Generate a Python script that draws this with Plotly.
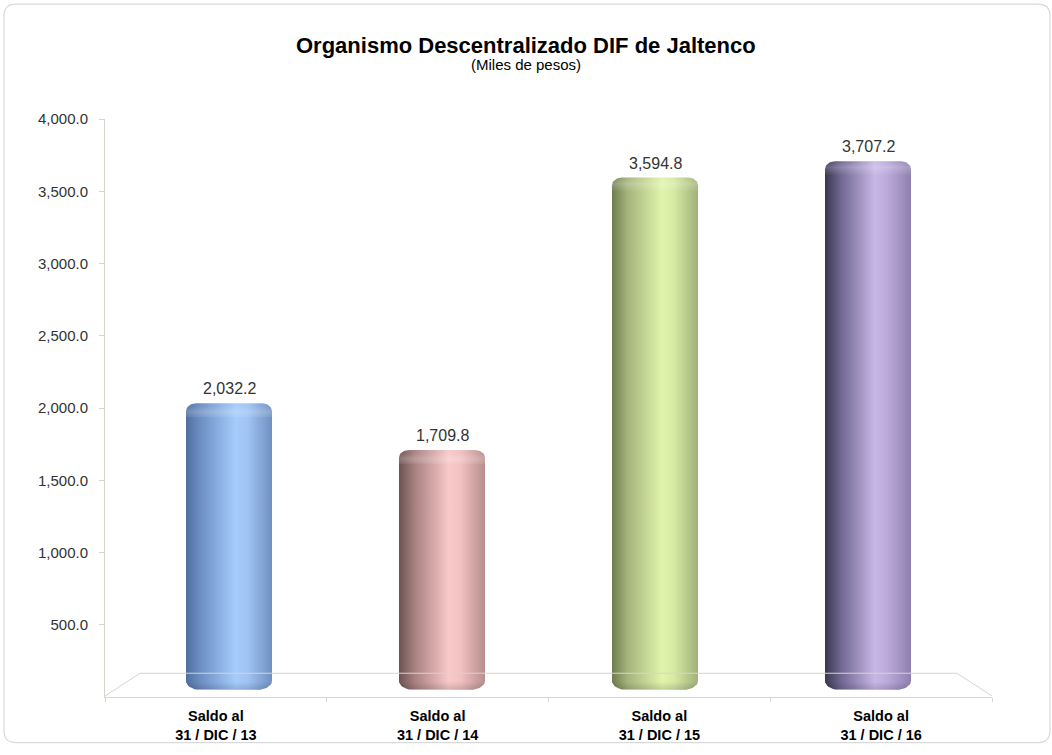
import numpy as np
import plotly.graph_objects as go

# ---------------- data ----------------
categories = ["Saldo al<br>31 / DIC / 13", "Saldo al<br>31 / DIC / 14",
              "Saldo al<br>31 / DIC / 15", "Saldo al<br>31 / DIC / 16"]
values = [2032.2, 1709.8, 3594.8, 3707.2]
y_ticks = [500, 1000, 1500, 2000, 2500, 3000, 3500, 4000]
title_text = "Organismo Descentralizado DIF de Jaltenco"
subtitle_text = "(Miles de pesos)"

# cylinder colour ramps (left edge -> highlight -> right edge)
bar_ramps = [
    ["#4f6f9f", "#6e91c5", "#a6ccfc", "#9fc3f3", "#7090c0"],
    ["#6e5252", "#a88080", "#f9c9c9", "#f1c0c0", "#b88e8e"],
    ["#6f7c4f", "#a4b47c", "#e0f4aa", "#d6eaa2", "#a0b078"],
    ["#3a364e", "#6f6690", "#c8b7e6", "#bcaadb", "#8f80b0"],
]
ramp_pos = [0.0, 0.18, 0.58, 0.72, 1.0]

# ---------------- geometry / style ----------------
W, H = 1052, 755
L, R, T, B = 105, 992, 119, 703          # plot area in pixels
PX_X = (R - L) / 4.0                      # px per category unit
PX_Y = (B - T) / 4000.0                   # px per value unit
DEPTH_K = 852.0 / 887.0                   # mid-depth compression of category spacing
BAR_HALF = 43.0 / PX_X
BASE = 50.0
AX_COL = "#d6d6cc"
FONT = "Arial, Liberation Sans, sans-serif"


def px2x(px):
    return (px - L) / (R - L)


def py2y(py):
    return (B - py) / (B - T)


def arc(cx, cy, rx, ry, a0, a1, n=12):
    t = np.linspace(np.radians(a0), np.radians(a1), n)
    return list(cx + rx * np.cos(t)), list(cy + ry * np.sin(t))


def outline(xc, y0, y1, rb=(0, 0), rt=(0, 0)):
    xl, xr = xc - BAR_HALF, xc + BAR_HALF
    rbx, rby = rb[0] / PX_X, rb[1] / PX_Y
    rtx, rty = rt[0] / PX_X, rt[1] / PX_Y
    xs, ys = [], []
    for (cx, cy, rx, ry, a0, a1) in [
        (xl + rtx, y1 - rty, rtx, rty, 180, 90),
        (xr - rtx, y1 - rty, rtx, rty, 90, 0),
        (xr - rbx, y0 + rby, rbx, rby, 0, -90),
        (xl + rbx, y0 + rby, rbx, rby, -90, -180),
    ]:
        ax, ay = arc(cx, cy, rx, ry, a0, a1)
        xs += ax
        ys += ay
    xs.append(xs[0])
    ys.append(ys[0])
    return xs, ys


fig = go.Figure()

for i, (cat, v) in enumerate(zip(categories, values)):
    xc = 1.5 + (i - 1.5) * DEPTH_K
    xs, ys = outline(xc, BASE, v, rb=(14, 9), rt=(10, 8))
    fig.add_trace(go.Scatter(
        x=xs, y=ys, mode="lines", fill="toself", line=dict(width=0),
        fillgradient=dict(type="horizontal",
                          colorscale=[[p, c] for p, c in zip(ramp_pos, bar_ramps[i])],
                          start=xc - BAR_HALF, stop=xc + BAR_HALF),
        hoverinfo="skip", showlegend=False))
    # top cap highlight
    cap_h = 14 / PX_Y
    xs, ys = outline(xc, v - cap_h, v, rt=(10, 8))
    fig.add_trace(go.Scatter(
        x=xs, y=ys, mode="lines", fill="toself", line=dict(width=0),
        fillgradient=dict(type="vertical",
                          colorscale=[[0, "rgba(255,255,255,0)"], [0.6, "rgba(255,255,255,0.2)"],
                                      [1, "rgba(255,255,255,0.05)"]],
                          start=v - cap_h, stop=v),
        hoverinfo="skip", showlegend=False))
    # bottom shadow
    bot_h = 14 / PX_Y
    xs, ys = outline(xc, BASE, BASE + bot_h, rb=(14, 9))
    fig.add_trace(go.Scatter(
        x=xs, y=ys, mode="lines", fill="toself", line=dict(width=0),
        fillgradient=dict(type="vertical",
                          colorscale=[[0, "rgba(20,20,40,0.28)"], [1, "rgba(20,20,40,0)"]],
                          start=BASE, stop=BASE + bot_h),
        hoverinfo="skip", showlegend=False))
    fig.add_annotation(x=xc, y=v, text=f"{v:,.1f}", showarrow=False,
                       yanchor="bottom", yshift=4,
                       font=dict(family=FONT, size=16, color="#333333"))

# floor (3D base)
floor = [((105, 702), (140, 679)), ((140, 679), (957, 679)), ((957, 679), (992, 702))]
for (a, b) in floor:
    fig.add_shape(type="line", xref="paper", yref="paper",
                  x0=px2x(a[0]), y0=py2y(a[1]), x1=px2x(b[0]), y1=py2y(b[1]),
                  line=dict(color=AX_COL, width=1))

# outer rounded border
x0b, x1b, y0b, y1b, rr = 4, 1050, 3, 749, 12
path = (f"M {px2x(x0b + rr)} {py2y(y0b)} L {px2x(x1b - rr)} {py2y(y0b)} "
        f"Q {px2x(x1b)} {py2y(y0b)} {px2x(x1b)} {py2y(y0b + rr)} "
        f"L {px2x(x1b)} {py2y(y1b - rr)} Q {px2x(x1b)} {py2y(y1b)} {px2x(x1b - rr)} {py2y(y1b)} "
        f"L {px2x(x0b + rr)} {py2y(y1b)} Q {px2x(x0b)} {py2y(y1b)} {px2x(x0b)} {py2y(y1b - rr)} "
        f"L {px2x(x0b)} {py2y(y0b + rr)} Q {px2x(x0b)} {py2y(y0b)} {px2x(x0b + rr)} {py2y(y0b)} Z")
fig.add_shape(type="path", xref="paper", yref="paper", path=path,
              line=dict(color="#d9d9d9", width=1.2), layer="below")

# title
fig.add_annotation(xref="paper", yref="paper", x=px2x(526), y=py2y(45),
                   text=f"<b>{title_text}</b>", showarrow=False, yanchor="middle",
                   font=dict(family=FONT, size=22, color="#000000"))
fig.add_annotation(xref="paper", yref="paper", x=px2x(526), y=py2y(64),
                   text=subtitle_text, showarrow=False, yanchor="middle",
                   font=dict(family=FONT, size=15, color="#000000"))

fig.update_layout(
    width=W, height=H,
    margin=dict(l=L, r=W - R, t=T, b=H - B, pad=0),
    paper_bgcolor="white", plot_bgcolor="white",
    showlegend=False, hovermode=False,
    xaxis=dict(type="linear", range=[-0.5, 3.5], tickvals=[0, 1, 2, 3],
               ticktext=[f"<b>{c}</b>" for c in categories],
               showgrid=False, zeroline=False, showline=True, linecolor=AX_COL, linewidth=1,
               ticks="", ticklabelstandoff=6,
               minor=dict(tickvals=[-0.5, 0.5, 1.5, 2.5, 3.5], ticks="outside",
                          ticklen=4, tickcolor=AX_COL, showgrid=False),
               tickfont=dict(family=FONT, size=14.5, color="#000000"), fixedrange=True),
    yaxis=dict(range=[0, 4000], tickvals=y_ticks, ticktext=[f"{t:,.1f}" for t in y_ticks],
               showgrid=False, zeroline=False, showline=True, linecolor=AX_COL, linewidth=1,
               ticks="outside", ticklen=5, tickcolor=AX_COL, ticklabelstandoff=8,
               tickfont=dict(family=FONT, size=15, color="#333333"), fixedrange=True),
)

fig.write_html("out.html", config={"displayModeBar": False, "staticPlot": True},
               post_script="document.body.style.margin='0';document.body.style.overflow='hidden';")
